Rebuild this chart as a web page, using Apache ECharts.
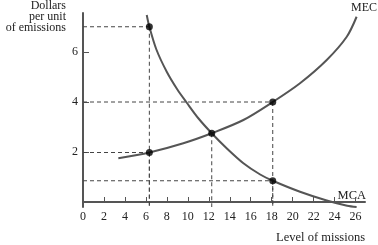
<!DOCTYPE html>
<html>
<head>
<meta charset="utf-8">
<script src="https://cdn.jsdelivr.net/npm/echarts@6/dist/echarts.min.js"></script>
<style>
  html, body { margin: 0; padding: 0; background: #fff; }
  #chart { width: 378px; height: 245px; }
</style>
</head>
<body>
<div id="chart"></div>
<script>
// x ticks on the level axis
const xTicks = [0, 2, 4, 6, 8, 10, 12, 14, 16, 18, 20, 22, 24, 26];
const yTicks = [2, 4, 6];

// curves
const mcaX = [6.08, 6.33, 7.0, 8.0, 9.0, 9.9, 11.0, 12.28, 13.7, 15.3, 16.9, 18.1, 20.7, 23.25, 25.2, 26.1];
const mcaY = [7.48, 7.01, 6.1, 5.2, 4.5, 3.97, 3.35, 2.75, 2.15, 1.55, 1.1, 0.85, 0.41, 0.06, -0.15, -0.2];
const mecX = [3.37, 6.33, 9.57, 12.28, 15.3, 18.1, 20.7, 23.25, 25.16, 26.1];
const mecY = [1.75, 1.98, 2.35, 2.75, 3.28, 4.0, 4.75, 5.68, 6.61, 7.41];

// marked points
const dotX = [6.33, 6.33, 12.28, 18.1, 18.1];
const dotY = [7.01, 1.98, 2.75, 4.0, 0.85];

const chart = echarts.init(document.getElementById('chart'));

// dashed guides from each dot to the axes
const guides = [];
dotX.forEach((x, i) => {
    const y = dotY[i];
    // horizontal guide, not for the crossing point
    if (i !== 2) {
        guides.push({
            type: 'line', data: [[0, y], [x, y]], symbol: 'none', silent: true,
            lineStyle: { color: '#444', width: 1, type: [4, 3] }, z: 1
        });
    }
    guides.push({
        type: 'line', data: [[x, y], [x, -0.2]], symbol: 'none', silent: true,
        lineStyle: { color: '#444', width: 1, type: [4, 3] }, z: 1
    });
});

const serif = 'Liberation Serif';

const option = {
    animation: false,
    grid: { left: 83, right: 13, top: 13, bottom: 38 },
    xAxis: {
        type: 'value', min: 0, max: 26.9,
        axisLine: { lineStyle: { color: '#555', width: 2 } },
        axisTick: { inside: true, length: 5, customValues: xTicks, lineStyle: { color: '#555' } },
        axisLabel: { customValues: xTicks, color: '#222', fontFamily: serif, fontSize: 12, margin: 4 },
        splitLine: { show: false }
    },
    yAxis: {
        type: 'value', min: -0.2, max: 7.56,
        axisLine: { show: true, lineStyle: { color: '#555', width: 2 } },
        axisTick: { show: true, inside: true, length: 6, customValues: yTicks, lineStyle: { color: '#555' } },
        axisLabel: { customValues: yTicks, color: '#222', fontFamily: serif, fontSize: 12, margin: 5 },
        splitLine: { show: false }
    },
    series: [
        ...guides,
        {
            name: 'MCA', type: 'line', smooth: 0.3, symbol: 'none',
            data: mcaX.map((x, i) => [x, mcaY[i]]),
            lineStyle: { color: '#555', width: 2 }, z: 3
        },
        {
            name: 'MEC', type: 'line', smooth: 0.3, symbol: 'none',
            data: mecX.map((x, i) => [x, mecY[i]]),
            lineStyle: { color: '#555', width: 2 }, z: 3
        },
        {
            type: 'scatter', symbolSize: 7,
            data: dotX.map((x, i) => [x, dotY[i]]),
            itemStyle: { color: '#000' }, z: 5
        }
    ],
    graphic: [
        {
            type: 'text', x: 66, y: 0,
            style: {
                text: 'Dollars\nper unit\nof emissions', fill: '#222',
                font: '12px "Liberation Serif"', textAlign: 'right', lineHeight: 11
            }
        },
        {
            type: 'text', x: 365, y: 231,
            style: { text: 'Level of missions', fill: '#222', font: '12.5px "Liberation Serif"', textAlign: 'right' }
        },
        {
            type: 'text', x: 377, y: 2,
            style: { text: 'MEC', fill: '#222', font: '12px "Liberation Serif"', textAlign: 'right' }
        },
        {
            type: 'text', x: 366, y: 189,
            style: { text: 'MCA', fill: '#222', font: '12.5px "Liberation Serif"', textAlign: 'right' }
        }
    ]
};

chart.setOption(option);
</script>
</body>
</html>
